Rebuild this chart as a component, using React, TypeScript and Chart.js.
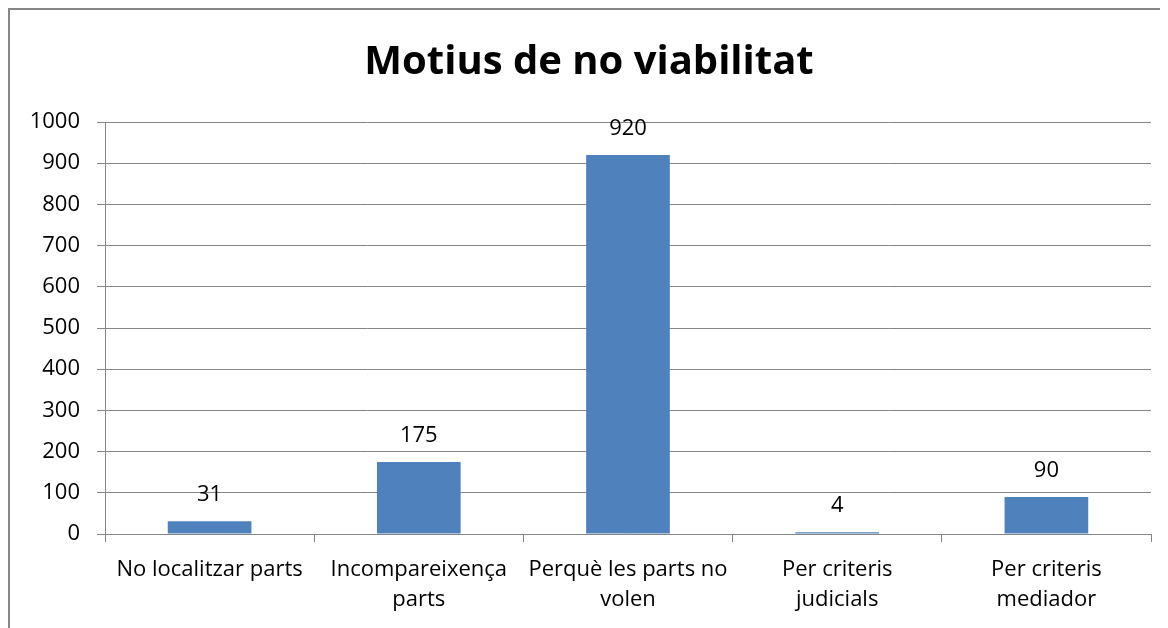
import React, { useEffect, useRef } from "react";
import { Chart, registerables } from "chart.js";

Chart.register(...registerables);

const categories: string[][] = [
  ["No localitzar parts"],
  ["Incompareixença", "parts"],
  ["Perquè les parts no", "volen"],
  ["Per criteris", "judicials"],
  ["Per criteris", "mediador"],
];
const values: number[] = [31, 175, 920, 4, 90];
const titleText = "Motius de no viabilitat";
const FONT = "'Open Sans', sans-serif";

const valueLabels = {
  id: "valueLabels",
  afterDatasetsDraw(chart: any) {
    const ctx = chart.ctx;
    const meta = chart.getDatasetMeta(0);
    ctx.save();
    ctx.fillStyle = "#000";
    ctx.font = `22px ${FONT}`;
    ctx.textAlign = "center";
    ctx.textBaseline = "alphabetic";
    meta.data.forEach((bar: any, i: number) => {
      ctx.fillText(String(chart.data.datasets[0].data[i]), bar.x, bar.y - 20);
    });
    ctx.restore();
  },
};

export default function App() {
  const ref = useRef<HTMLCanvasElement | null>(null);
  useEffect(() => {
    if (!ref.current) return;
    const chart = new Chart(ref.current, {
      type: "bar",
      data: {
        labels: categories,
        datasets: [
          {
            data: values,
            backgroundColor: "#4F81BD",
            barPercentage: 0.4,
            categoryPercentage: 1,
          },
        ],
      },
      options: {
        animation: false,
        responsive: false,
        layout: { padding: { left: 17, right: 17, top: 0, bottom: 0 } },
        plugins: {
          legend: { display: false },
          tooltip: { enabled: false },
          title: {
            display: true,
            text: titleText,
            color: "#000",
            font: { family: FONT, size: 40, weight: "bold", lineHeight: 1.2 },
            padding: { top: 29, bottom: 35 },
          },
        },
        scales: {
          x: {
            grid: {
              offset: true,
              drawOnChartArea: false,
              drawTicks: true,
              tickLength: 8,
              color: "#868686",
            },
            border: { color: "#868686" },
            ticks: {
              color: "#000",
              font: { family: FONT, size: 22, lineHeight: 1.4 },
              padding: 12,
              maxRotation: 0,
              autoSkip: false,
            },
            afterFit: (s: any) => {
              s.height = 94;
            },
          },
          y: {
            min: 0,
            max: 1000,
            ticks: {
              stepSize: 100,
              color: "#000",
              font: { family: FONT, size: 22 },
              padding: 17,
              callback: (v: any) => String(v),
            },
            grid: { color: "#868686", tickLength: 8 },
            border: { color: "#868686" },
            afterFit: (s: any) => {
              s.width = 78;
            },
          },
        },
      },
      plugins: [valueLabels],
    });
    return () => chart.destroy();
  }, []);
  return (
    <div
      style={{
        position: "relative",
        width: 1160,
        height: 620,
        overflow: "hidden",
        borderLeft: "2px solid #878787",
        borderTop: "2px solid #878787",
        boxSizing: "border-box",
      }}
    >
      <canvas ref={ref} width={1158} height={618} style={{ display: "block" }} />
    </div>
  );
}
